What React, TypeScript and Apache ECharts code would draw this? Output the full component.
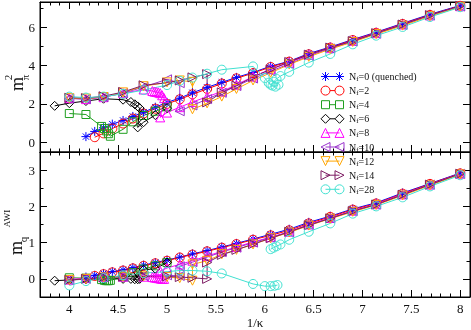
import { useEffect, useRef } from 'react';
import * as echarts from 'echarts';

const SERIF = "'Liberation Serif', 'DejaVu Serif', serif";

// ---------- axes / ticks ----------
const X_MIN = 3.7;
const X_MAX = 8.1;
const X_MAJOR = [4, 4.5, 5, 5.5, 6, 6.5, 7, 7.5, 8];
const Y_TOP_MIN = -0.5;
const Y_TOP_MAX = 7.3;
const Y_TOP_MAJOR = [0, 2, 4, 6];
const Y_TOP_MINOR = [1, 3, 5, 7];
const Y_BOT_MIN = -0.5;
const Y_BOT_MAX = 3.5;
const Y_BOT_MAJOR = [0, 1, 2, 3];
const Y_BOT_MINOR = [0.5, 1.5, 2.5];

// ---------- series ----------
const NAMES = ['Nf=0', 'Nf=2', 'Nf=4', 'Nf=6', 'Nf=8', 'Nf=10', 'Nf=12', 'Nf=14', 'Nf=28'];
const LEGEND_SUFFIX = ['=0 (quenched)', '=2', '=4', '=6', '=8', '=10', '=12', '=14', '=28'];
const COLORS = ['#0000ff', '#ff0000', '#1f9f1f', '#000000', '#ff00ff', '#9932cc', '#ffa500', '#7d1c63', '#40e0d0'];

// m_pi^2 (top panel)
const NF0_TOP = [[4.17,0.3],[4.26,0.57],[4.35,0.76],[4.44,0.95],[4.55,1.14],[4.65,1.35],[4.76,1.57],[4.88,1.83],[5.0,2.08],[5.13,2.3],[5.26,2.58],[5.41,2.86],[5.56,3.12],[5.71,3.38],[5.88,3.64],[6.06,3.96],[6.25,4.22],[6.45,4.62],[6.67,4.96],[6.9,5.35],[7.14,5.73],[7.41,6.19],[7.69,6.66],[8.0,7.12]];
const NF2_TOP = [[4.26,0.27],[4.35,0.47],[4.44,0.72],[4.55,0.98],[4.65,1.24],[4.76,1.5],[4.88,1.75],[5.0,2.0],[5.13,2.24],[5.26,2.5],[5.41,2.78],[5.56,3.06],[5.71,3.33],[5.88,3.6],[6.06,3.92],[6.25,4.2],[6.45,4.58],[6.67,4.93],[6.9,5.32],[7.14,5.7],[7.41,6.16],[7.69,6.63],[8.0,7.1]];
const NF4_TOP = [[4.0,1.5],[4.17,1.45],[4.33,0.83],[4.36,0.72],[4.38,0.6],[4.4,0.45],[4.42,0.32],[4.55,0.68],[4.65,1.07],[4.76,1.4],[4.88,1.62],[5.0,1.85]];
const NF6_TOP = [[3.85,1.9],[4.0,2.04],[4.17,2.15],[4.35,2.27],[4.55,2.22],[4.63,2.1],[4.67,1.98],[4.7,1.87],[4.72,1.78],[4.7,0.78],[4.76,1.05],[4.88,1.42],[5.0,1.78]];
const NF8_TOP = [[4.0,2.3],[4.17,2.25],[4.35,2.35],[4.55,2.56],[4.76,2.75],[4.85,2.67],[4.87,2.64],[4.89,2.62],[4.91,2.6],[4.93,2.56],[4.95,2.45],[4.97,2.3],[4.93,1.3],[5.0,1.55],[5.13,1.83],[5.26,2.1],[5.41,2.37],[5.56,2.65],[5.71,3.0],[5.88,3.42],[6.06,3.8],[6.25,4.15],[6.45,4.55],[6.67,4.9],[6.9,5.28],[7.14,5.68],[7.41,6.13],[7.69,6.6],[8.0,7.08]];
const NF10_TOP = [[4.0,2.28],[4.17,2.25],[4.35,2.35],[4.55,2.56],[4.76,2.88],[5.0,3.28],[5.13,3.08],[5.13,1.62],[5.26,1.92],[5.41,2.25],[5.56,2.58],[5.71,2.93],[5.88,3.32],[6.06,3.7],[6.25,4.08],[6.45,4.5],[6.67,4.88],[6.9,5.25],[7.14,5.65],[7.41,6.1],[7.69,6.6],[8.0,7.07]];
const NF12_TOP = [[4.0,2.3],[4.17,2.28],[4.35,2.36],[4.55,2.6],[4.76,2.92],[5.0,3.12],[5.13,3.22],[5.26,3.15],[5.26,1.72],[5.41,2.03],[5.56,2.38],[5.71,2.78],[5.88,3.22],[6.06,3.62],[6.25,4.05],[6.45,4.45],[6.67,4.85],[6.9,5.22],[7.14,5.63],[7.41,6.07],[7.69,6.56],[8.0,7.05]];
const NF14_TOP = [[4.0,2.32],[4.17,2.3],[4.35,2.4],[4.55,2.62],[4.76,2.97],[5.0,3.1],[5.13,3.22],[5.26,3.38],[5.41,3.55],[5.41,2.08],[5.56,2.6],[5.71,2.95],[5.88,3.4],[6.06,3.8],[6.25,4.18],[6.45,4.56],[6.67,4.93],[6.9,5.27],[7.14,5.68],[7.41,6.13],[7.69,6.62],[8.0,7.1]];
const NF28_TOP_A = [[4.0,2.38],[4.17,2.33],[4.35,2.38],[4.55,2.52],[4.76,2.72],[5.0,2.98],[5.13,3.2],[5.26,3.37],[5.41,3.57],[5.56,3.78],[5.88,3.95],[6.0,3.35],[6.04,3.1],[6.08,2.95],[6.11,2.9],[6.14,3.0]];
const NF28_TOP_B = [[6.06,3.0],[6.09,3.15],[6.12,3.3],[6.16,3.45],[6.25,3.67],[6.45,4.15],[6.67,4.6],[6.9,5.1],[7.14,5.55],[7.41,6.0],[7.69,6.52],[8.0,7.03]];

// m_q^AWI (bottom panel)
const NF0_BOT = [[4.17,0.05],[4.26,0.1],[4.35,0.15],[4.44,0.2],[4.55,0.25],[4.65,0.31],[4.76,0.38],[4.88,0.45],[5.0,0.52],[5.13,0.6],[5.26,0.69],[5.41,0.78],[5.56,0.88],[5.71,0.98],[5.88,1.1],[6.06,1.23],[6.25,1.37],[6.45,1.56],[6.67,1.73],[6.9,1.93],[7.14,2.1],[7.41,2.37],[7.69,2.63],[8.0,2.92]];
const NF2_BOT = [[4.26,0.08],[4.35,0.13],[4.44,0.18],[4.55,0.23],[4.65,0.29],[4.76,0.36],[4.88,0.43],[5.0,0.5],[5.13,0.59],[5.26,0.67],[5.41,0.76],[5.56,0.86],[5.71,0.96],[5.88,1.08],[6.06,1.2],[6.25,1.34],[6.45,1.53],[6.67,1.71],[6.9,1.91],[7.14,2.08],[7.41,2.35],[7.69,2.62],[8.0,2.91]];
const NF4_BOT = [[4.0,0.03],[4.17,0.02],[4.33,-0.02],[4.36,-0.04],[4.38,-0.05],[4.4,-0.05],[4.42,-0.04],[4.55,0.06],[4.65,0.17],[4.76,0.27],[4.88,0.36],[5.0,0.45]];
const NF6_BOT = [[3.85,-0.05],[4.0,-0.03],[4.17,-0.01],[4.35,0.0],[4.55,0.0],[4.63,0.0],[4.67,-0.01],[4.7,-0.01],[4.72,0.0],[4.7,0.18],[4.76,0.25],[4.88,0.28],[5.0,0.45]];
const NF8_BOT = [[4.0,-0.02],[4.17,0.02],[4.35,0.05],[4.55,0.06],[4.76,0.06],[4.85,0.05],[4.87,0.04],[4.89,0.03],[4.91,0.02],[4.93,0.01],[4.95,0.0],[4.97,0.0],[4.93,0.22],[5.0,0.3],[5.13,0.4],[5.26,0.5],[5.41,0.63],[5.56,0.76],[5.71,0.88],[5.88,1.02],[6.06,1.15],[6.25,1.3],[6.45,1.5],[6.67,1.68],[6.9,1.88],[7.14,2.06],[7.41,2.33],[7.69,2.6],[8.0,2.9]];
const NF10_BOT = [[4.0,-0.03],[4.17,0.0],[4.35,0.04],[4.55,0.06],[4.76,0.08],[5.0,0.1],[5.13,0.08],[5.13,0.35],[5.26,0.46],[5.41,0.6],[5.56,0.74],[5.71,0.86],[5.88,1.0],[6.06,1.14],[6.25,1.29],[6.45,1.49],[6.67,1.67],[6.9,1.87],[7.14,2.05],[7.41,2.32],[7.69,2.6],[8.0,2.9]];
const NF12_BOT = [[4.0,-0.03],[4.17,0.0],[4.35,0.04],[4.55,0.06],[4.76,0.07],[5.0,0.05],[5.13,0.02],[5.26,-0.05],[5.26,0.4],[5.41,0.5],[5.56,0.68],[5.71,0.8],[5.88,0.95],[6.06,1.12],[6.25,1.28],[6.45,1.47],[6.67,1.66],[6.9,1.85],[7.14,2.04],[7.41,2.3],[7.69,2.58],[8.0,2.88]];
const NF14_BOT = [[4.0,-0.03],[4.17,0.0],[4.35,0.04],[4.55,0.06],[4.76,0.07],[5.0,0.07],[5.13,0.05],[5.26,0.03],[5.41,0.0],[5.41,0.45],[5.56,0.66],[5.71,0.8],[5.88,0.96],[6.06,1.12],[6.25,1.3],[6.45,1.48],[6.67,1.67],[6.9,1.87],[7.14,2.05],[7.41,2.32],[7.69,2.6],[8.0,2.9]];
const NF28_BOT_A = [[4.0,-0.18],[4.17,-0.06],[4.35,0.02],[4.55,0.1],[4.76,0.16],[5.0,0.2],[5.13,0.23],[5.26,0.23],[5.41,0.21],[5.56,0.15],[5.88,-0.14],[6.0,-0.2],[6.06,-0.2],[6.1,-0.19],[6.13,-0.17]];
const NF28_BOT_B = [[6.06,0.82],[6.09,0.86],[6.12,0.9],[6.16,0.95],[6.25,1.08],[6.45,1.3],[6.67,1.53],[6.9,1.8],[7.14,2.0],[7.41,2.25],[7.69,2.55],[8.0,2.86]];

const TOP_DATA = [NF0_TOP, NF2_TOP, NF4_TOP, NF6_TOP, NF8_TOP, NF10_TOP, NF12_TOP, NF14_TOP, NF28_TOP_A];
const BOT_DATA = [NF0_BOT, NF2_BOT, NF4_BOT, NF6_BOT, NF8_BOT, NF10_BOT, NF12_BOT, NF14_BOT, NF28_BOT_A];

// ---------- symbols ----------
const STAR = 'path://M5,0L5,10M0,5L10,5M1.5,1.5L8.5,8.5M1.5,8.5L8.5,1.5';
const SYMBOLS = [STAR, 'circle', 'rect', 'diamond', 'triangle', 'triangle', 'triangle', 'triangle', 'circle'];
const ROTATE = [0, 0, 0, 0, 0, 90, 180, -90, 0];
const SIZES = [9, 9, 8, 9, 9, 9, 9, 9, 9];

const LINE = 'M4.5,4.5L18.5,4.5';
const LEGEND_ICONS = [
  'path://M4.5,0L4.5,9M0,4.5L9,4.5M1.3,1.3L7.7,7.7M1.3,7.7L7.7,1.3' + LINE + 'M18.5,0L18.5,9M14,4.5L23,4.5M15.3,1.3L21.7,7.7M15.3,7.7L21.7,1.3',
  'path://M0,4.5A4.5,4.5 0 1 1 9,4.5A4.5,4.5 0 1 1 0,4.5Z' + 'M9,4.5L14,4.5' + 'M14,4.5A4.5,4.5 0 1 1 23,4.5A4.5,4.5 0 1 1 14,4.5Z',
  'path://M0.5,0.5L8.5,0.5L8.5,8.5L0.5,8.5ZM8.5,4.5L14.5,4.5M14.5,0.5L22.5,0.5L22.5,8.5L14.5,8.5ZM0,0M23,9',
  'path://M4.5,0L9,4.5L4.5,9L0,4.5ZM9,4.5L14,4.5M18.5,0L23,4.5L18.5,9L14,4.5Z',
  'path://M4.5,0L9,9L0,9Z' + LINE + 'M18.5,0L23,9L14,9Z',
  'path://M0,4.5L9,0L9,9Z' + LINE + 'M14,4.5L23,0L23,9Z',
  'path://M0,0L9,0L4.5,9Z' + LINE + 'M14,0L23,0L18.5,9Z',
  'path://M0,0L9,4.5L0,9Z' + LINE + 'M14,0L23,4.5L14,9Z',
  'path://M0,4.5A4.5,4.5 0 1 1 9,4.5A4.5,4.5 0 1 1 0,4.5Z' + LINE + 'M14,4.5A4.5,4.5 0 1 1 23,4.5A4.5,4.5 0 1 1 14,4.5Z',
];

const X_MINOR: number[] = [];
for (let i = 38; i <= 80; i++) if (i % 5 !== 0) X_MINOR.push(i / 10);

const AX = '#000';

function makeXAxes(gridIndex: number, withLabels: boolean) {
  const base = {
    type: 'value', gridIndex, min: X_MIN, max: X_MAX,
    splitLine: { show: false },
    axisLine: { show: true, onZero: false, lineStyle: { color: AX, width: 1 } },
  };
  const major = (pos: string, labels: boolean) => ({
    ...base, position: pos,
    axisTick: { show: true, inside: true, length: 7, customValues: X_MAJOR, lineStyle: { color: AX } },
    axisLabel: labels
      ? { show: true, customValues: X_MAJOR, fontFamily: SERIF, fontSize: 13, color: '#111', margin: 5 }
      : { show: false },
    ...(labels ? { name: '1/κ', nameLocation: 'middle', nameGap: 19, nameTextStyle: { fontFamily: SERIF, fontSize: 13, color: '#111' } } : {}),
  });
  const minor = (pos: string) => ({
    ...base, position: pos,
    axisLine: { show: false, onZero: false },
    axisTick: { show: true, inside: true, length: 3.5, customValues: X_MINOR, lineStyle: { color: AX } },
    axisLabel: { show: false },
  });
  return [major('bottom', withLabels), minor('bottom'), major('top', false), minor('top')];
}

function makeYAxes(gridIndex: number, min: number, max: number, majors: number[], minors: number[]) {
  const base = {
    type: 'value', gridIndex, min, max,
    splitLine: { show: false },
    axisLine: { show: true, onZero: false, lineStyle: { color: AX, width: 1 } },
  };
  const major = (pos: string, labels: boolean) => ({
    ...base, position: pos,
    axisTick: { show: true, inside: true, length: 7, customValues: majors, lineStyle: { color: AX } },
    axisLabel: labels
      ? { show: true, customValues: majors, fontFamily: SERIF, fontSize: 13, color: '#111', margin: 5 }
      : { show: false },
  });
  const minor = (pos: string) => ({
    ...base, position: pos,
    axisLine: { show: false, onZero: false },
    axisTick: { show: true, inside: true, length: 3.5, customValues: minors, lineStyle: { color: AX } },
    axisLabel: { show: false },
  });
  return [major('left', true), minor('left'), major('right', false), minor('right')];
}

function makeSeries(i: number, data: number[][], xi: number, yi: number) {
  return {
    type: 'line', name: NAMES[i], xAxisIndex: xi, yAxisIndex: yi,
    data, symbol: SYMBOLS[i], symbolSize: SIZES[i], symbolRotate: ROTATE[i],
    showSymbol: true, showAllSymbol: true,
    itemStyle: { color: 'rgba(255,255,255,0)', borderColor: COLORS[i], borderWidth: 1 },
    lineStyle: { color: COLORS[i], width: 1 },
    emphasis: { disabled: true },
  };
}

export default function App() {
  const ref = useRef<HTMLDivElement>(null);
  useEffect(() => {
    document.body.style.margin = '0';
    if (!ref.current) return;
    const chart = echarts.init(ref.current, null, { renderer: 'svg' });
    const series: any[] = [];
    for (let i = 0; i < NAMES.length; i++) series.push(makeSeries(i, TOP_DATA[i], 0, 0));
    series.push(makeSeries(8, NF28_TOP_B, 0, 0));
    for (let i = 0; i < NAMES.length; i++) series.push(makeSeries(i, BOT_DATA[i], 4, 4));
    series.push(makeSeries(8, NF28_BOT_B, 4, 4));

    const option: any = {
      animation: false,
      textStyle: { fontFamily: SERIF },
      grid: [
        { left: 40, top: 2, width: 430, height: 150, show: true, borderColor: AX, borderWidth: 1, backgroundColor: 'transparent' },
        { left: 40, top: 152, width: 430, height: 152, show: true, borderColor: AX, borderWidth: 1, backgroundColor: 'transparent' },
      ],
      xAxis: [...makeXAxes(0, false), ...makeXAxes(1, true)],
      yAxis: [
        ...makeYAxes(0, Y_TOP_MIN, Y_TOP_MAX, Y_TOP_MAJOR, Y_TOP_MINOR),
        ...makeYAxes(1, Y_BOT_MIN, Y_BOT_MAX, Y_BOT_MAJOR, Y_BOT_MINOR),
      ],
      legend: {
        orient: 'vertical', left: 315.5, top: 66.5,
        itemWidth: 23, itemHeight: 9, itemGap: 3.1,
        selectedMode: false, z: 10,
        data: NAMES.map((n, i) => ({
          name: n, icon: LEGEND_ICONS[i],
          itemStyle: { color: 'rgba(255,255,255,0)', borderColor: COLORS[i], borderWidth: 1 },
        })),
        formatter: (name: string) => `{n|N}{s|f}{n|${LEGEND_SUFFIX[NAMES.indexOf(name)]}}`,
        textStyle: {
          fontFamily: SERIF, fontSize: 10, color: '#111',
          rich: {
            n: { fontFamily: SERIF, fontSize: 10, lineHeight: 12, color: '#111' },
            s: { fontFamily: SERIF, fontSize: 7, lineHeight: 5, verticalAlign: 'bottom', color: '#111' },
          },
        },
      },
      graphic: [
        { type: 'text', x: 16.5, y: 84, rotation: Math.PI / 2, style: { text: 'm', fontFamily: SERIF, fontSize: 18, fill: '#111', align: 'center', verticalAlign: 'middle' } },
        { type: 'text', x: 24.5, y: 77.5, rotation: Math.PI / 2, style: { text: 'π', fontFamily: SERIF, fontSize: 11, fill: '#111', align: 'center', verticalAlign: 'middle' } },
        { type: 'text', x: 7.5, y: 77.5, rotation: Math.PI / 2, style: { text: '2', fontFamily: SERIF, fontSize: 11, fill: '#111', align: 'center', verticalAlign: 'middle' } },
        { type: 'text', x: 15.5, y: 248, rotation: Math.PI / 2, style: { text: 'm', fontFamily: SERIF, fontSize: 18, fill: '#111', align: 'center', verticalAlign: 'middle' } },
        { type: 'text', x: 22.5, y: 239.5, rotation: Math.PI / 2, style: { text: 'q', fontFamily: SERIF, fontSize: 11, fill: '#111', align: 'center', verticalAlign: 'middle' } },
        { type: 'text', x: 7, y: 218.5, rotation: Math.PI / 2, style: { text: 'AWI', fontFamily: SERIF, fontSize: 9, fill: '#111', align: 'center', verticalAlign: 'middle' } },
      ],
      series,
    };
    chart.setOption(option);
    return () => chart.dispose();
  }, []);
  return <div ref={ref} style={{ position: 'fixed', left: 0, top: 0, width: 471, height: 330 }} />;
}
